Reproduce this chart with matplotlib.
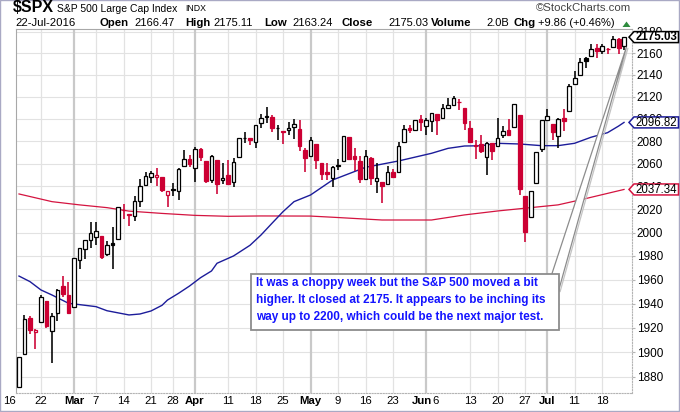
import matplotlib
matplotlib.use("Agg")
import matplotlib.pyplot as plt
from matplotlib.patches import Polygon, Rectangle
from matplotlib.ticker import FixedLocator, FixedFormatter, NullLocator
from matplotlib.transforms import blended_transform_factory, ScaledTranslation

# ---------------- data ----------------
feb = [16, 17, 18, 19, 22, 23, 24, 25, 26, 29]
mar = [1, 2, 3, 4, 7, 8, 9, 10, 11, 14, 15, 16, 17, 18, 21, 22, 23, 24, 28, 29, 30, 31]
apr = [1, 4, 5, 6, 7, 8, 11, 12, 13, 14, 15, 18, 19, 20, 21, 22, 25, 26, 27, 28, 29]
may = [2, 3, 4, 5, 6, 9, 10, 11, 12, 13, 16, 17, 18, 19, 20, 23, 24, 25, 26, 27, 31]
jun = [1, 2, 3, 6, 7, 8, 9, 10, 13, 14, 15, 16, 17, 20, 21, 22, 23, 24, 27, 28, 29, 30]
jul = [1, 5, 6, 7, 8, 11, 12, 13, 14, 15, 18, 19, 20, 21, 22]
dates = ([(2, d) for d in feb] + [(3, d) for d in mar] + [(4, d) for d in apr] +
         [(5, d) for d in may] + [(6, d) for d in jun] + [(7, d) for d in jul])

prev_close = 1864.78

opens = [1871.44, 1898.80, 1927.57, 1916.74, 1924.44, 1942.38, 1917.56, 1931.87, 1954.95, 1947.13,
         1937.09, 1976.60, 1985.60, 1994.01, 1996.11, 1996.88, 1981.44, 1990.97, 1994.71, 2019.27, 2015.27,
         2014.24, 2026.90, 2041.16, 2047.88, 2048.64, 2048.55, 2032.48, 2037.89, 2035.75, 2058.27, 2063.77,
         2056.62, 2073.19, 2062.50, 2045.56, 2063.01, 2045.54, 2050.23, 2043.72, 2065.92, 2082.89, 2083.10,
         2078.83, 2096.05, 2101.52, 2102.09, 2091.49, 2089.37, 2089.84, 2092.57, 2090.93, 2071.82,
         2067.17, 2077.18, 2060.30, 2052.95, 2047.77, 2057.55, 2062.63, 2083.29, 2067.17, 2062.50, 2046.53,
         2065.04, 2044.38, 2044.21, 2041.88, 2052.23, 2052.65, 2078.93, 2091.44, 2090.06, 2100.13,
         2093.94, 2097.71, 2104.07, 2100.83, 2110.18, 2112.71, 2115.65, 2109.57, 2091.75, 2076.65, 2077.60,
         2066.36, 2078.20, 2075.58, 2085.19, 2089.75, 2092.80, 2103.81, 2031.45, 2013.63, 2042.69, 2073.17,
         2099.34, 2095.05, 2084.43, 2100.42, 2106.97, 2131.72, 2139.50, 2155.81, 2157.88, 2165.13, 2162.04,
         2163.79, 2166.10, 2172.91, 2166.47]
highs = [1895.77, 1930.68, 1930.00, 1918.78, 1946.70, 1942.38, 1932.08, 1951.83, 1962.96, 1958.27,
         1978.35, 1986.51, 1993.69, 2009.13, 2008.76, 1996.88, 1992.69, 2005.08, 2022.37, 2024.57, 2015.94,
         2032.02, 2046.24, 2052.36, 2053.91, 2056.60, 2048.55, 2036.04, 2042.67, 2055.91, 2072.21, 2067.92,
         2075.07, 2074.02, 2062.50, 2067.33, 2063.01, 2060.63, 2062.93, 2065.05, 2083.18, 2087.84, 2083.22,
         2094.66, 2104.05, 2111.05, 2103.78, 2094.32, 2089.37, 2096.87, 2099.89, 2099.30, 2073.85,
         2083.42, 2077.18, 2060.30, 2060.23, 2057.72, 2064.15, 2084.87, 2083.29, 2073.99, 2066.79, 2071.88,
         2065.69, 2060.61, 2044.21, 2058.35, 2055.58, 2079.67, 2094.73, 2094.30, 2099.06, 2103.48,
         2100.97, 2105.26, 2104.07, 2113.36, 2119.22, 2120.55, 2117.64, 2109.57, 2098.12, 2081.30, 2085.65,
         2079.62, 2078.20, 2100.66, 2093.66, 2099.71, 2113.32, 2103.81, 2031.45, 2036.09, 2070.00, 2098.94,
         2108.71, 2095.05, 2100.72, 2109.08, 2131.71, 2143.16, 2155.40, 2156.45, 2168.99, 2169.05, 2168.35,
         2164.63, 2175.63, 2174.56, 2175.11]
lows = [1871.44, 1898.80, 1915.09, 1902.17, 1924.44, 1919.44, 1891.00, 1925.41, 1945.78, 1931.81,
        1937.09, 1968.80, 1977.37, 1986.77, 1989.44, 1977.43, 1979.84, 1969.25, 1994.71, 2012.05, 2005.23,
        2010.04, 2022.16, 2041.16, 2043.14, 2040.57, 2034.86, 2022.49, 2031.96, 2028.31, 2058.27, 2057.46,
        2043.98, 2062.57, 2042.56, 2043.09, 2033.80, 2041.69, 2041.88, 2039.74, 2065.92, 2078.13, 2076.31,
        2073.65, 2091.68, 2096.32, 2088.52, 2081.20, 2077.52, 2085.80, 2082.31, 2071.62, 2052.28,
        2066.11, 2054.89, 2045.55, 2045.77, 2039.45, 2054.31, 2062.63, 2064.46, 2053.13, 2043.13, 2046.53,
        2040.82, 2034.49, 2025.91, 2041.88, 2047.26, 2052.65, 2078.93, 2087.08, 2090.06, 2088.66,
        2085.10, 2088.59, 2085.36, 2100.83, 2110.18, 2112.71, 2107.73, 2089.96, 2078.46, 2064.10, 2069.80,
        2050.37, 2062.84, 2075.58, 2083.02, 2084.36, 2092.80, 2032.57, 1991.68, 2013.63, 2042.69, 2070.00,
        2097.90, 2080.86, 2074.02, 2089.39, 2106.97, 2131.72, 2139.50, 2146.21, 2157.88, 2155.79, 2159.07,
        2159.01, 2164.89, 2159.75, 2163.24]
closes = [1895.58, 1926.82, 1917.83, 1917.78, 1945.50, 1921.27, 1929.80, 1951.70, 1948.05, 1932.23,
          1978.35, 1986.45, 1993.40, 1999.99, 2001.76, 1979.26, 1989.26, 1989.57, 2022.19, 2019.64, 2015.93,
          2027.22, 2040.59, 2049.58, 2051.60, 2049.80, 2036.71, 2035.94, 2037.05, 2055.01, 2063.95, 2059.74,
          2072.78, 2066.13, 2045.17, 2066.66, 2041.91, 2047.60, 2041.99, 2061.72, 2082.42, 2082.78, 2080.73,
          2094.34, 2100.80, 2102.40, 2091.48, 2091.58, 2087.79, 2091.70, 2095.15, 2075.81, 2065.30,
          2081.43, 2063.37, 2051.12, 2050.63, 2057.14, 2058.69, 2084.39, 2064.46, 2064.11, 2046.61, 2066.66,
          2047.21, 2047.63, 2040.04, 2052.32, 2048.04, 2076.06, 2090.54, 2090.10, 2099.06, 2096.95,
          2099.33, 2105.26, 2099.13, 2109.41, 2112.13, 2119.12, 2115.48, 2096.07, 2079.06, 2075.32, 2071.50,
          2077.99, 2071.22, 2083.25, 2088.90, 2085.45, 2113.32, 2037.41, 2000.54, 2036.09, 2070.77, 2098.86,
          2102.95, 2088.55, 2099.73, 2097.90, 2129.90, 2137.16, 2152.14, 2152.43, 2163.75, 2161.74, 2166.89,
          2163.78, 2173.02, 2165.17, 2175.03]

# 50-day moving average (trading-day index, value)
ma50_idx = [0, 2, 4, 6, 9, 14, 16, 20, 22, 24, 26, 27, 29, 31, 33, 35, 36, 39, 42, 44, 46, 48, 50,
            53, 57, 63, 69, 75, 78, 81, 84, 87, 91, 95, 98, 101, 104, 107, 109, 110]
ma50_val = [1963.0, 1958.3, 1951.3, 1947.1, 1940.2, 1937.4, 1934.0, 1930.5, 1931.3, 1933.8, 1938.5,
            1942.9, 1948.5, 1954.6, 1961.6, 1967.3, 1973.8, 1980.0, 1989.1, 1997.9, 2008.0, 2018.0,
            2026.7, 2032.5, 2045.6, 2056.8, 2062.4, 2069.2, 2073.6, 2075.7, 2075.9, 2078.1, 2077.5,
            2076.0, 2076.0, 2078.1, 2083.5, 2087.6, 2093.5, 2096.82]
# 200-day moving average
ma200_idx = [0, 6, 11, 16, 20, 26, 32, 38, 44, 53, 57, 66, 75, 81, 87, 98, 102, 110]
ma200_val = [2033.4, 2026.7, 2023.9, 2021.5, 2018.5, 2016.5, 2014.8, 2014.0, 2014.3, 2014.2, 2013.2,
             2010.8, 2010.8, 2015.2, 2018.6, 2023.9, 2028.2, 2037.34]

price_ticks = [1880, 1900, 1920, 1940, 1960, 1980, 2000, 2020, 2040, 2060, 2080, 2100,
               2120, 2140, 2160, 2180]

xlab_dates = [(2, 16), (2, 22), (3, 1), (3, 7), (3, 14), (3, 21), (3, 28), (4, 1), (4, 11), (4, 18),
              (4, 25), (5, 2), (5, 9), (5, 16), (5, 23), (6, 1), (6, 6), (6, 13), (6, 20), (6, 27),
              (7, 1), (7, 11), (7, 18)]
xlab_text = ['16', '22', 'Mar', '7', '14', '21', '28', 'Apr', '11', '18', '25', 'May', '9', '16',
             '23', 'Jun', '6', '13', '20', '27', 'Jul', '11', '18']

header_fields = [("Open", "2166.47"), ("High", "2175.11"), ("Low", "2163.24"),
                 ("Close", "2175.03"), ("Volume", "2.0B"), ("Chg", "+9.86 (+0.46%)")]
note_lines = ["It was a choppy week but the S&P 500 moved a bit",
              "higher. It closed at 2175. It appears to be inching its",
              "way up to 2200, which could be the next major test."]

# ---------------- style ----------------
W, H = 680, 412
RED = '#cc0033'
BLACK = '#000000'
BLUE_MA = '#1c1c9a'
RED_MA = '#d41440'
FONT = ['Liberation Sans', 'DejaVu Sans']
plt.rcParams['font.family'] = FONT

fig = plt.figure(figsize=(W / 100, H / 100), dpi=100)
fig.patch.set_facecolor('white')


def fx(x):
    return x / W


def fy(y):
    return 1 - y / H


L, R, T, B = 16, 632, 29, 393
ax = fig.add_axes([fx(L), fy(B), (R - L) / W, (B - T) / H])
ax.set_facecolor('white')
ax.set_yscale('log')
ax.set_ylim(1866.9, 2182.6)
ax.set_xlim(-0.545, 111.45)

n = len(closes)
xs = list(range(n))

# gridlines
for p in price_ticks:
    ax.axhline(p, color='#e2e2e2', lw=0.8, zorder=0)
for d, t in zip(xlab_dates, xlab_text):
    i = dates.index(d)
    if i == 0 or t == '6':
        continue
    if t.isalpha():
        ax.axvline(i, color='#c9c9c9', lw=1.6, zorder=0)
    else:
        ax.axvline(i, color='#e2e2e2', lw=0.9, zorder=0)

# moving averages
ax.plot(ma200_idx, ma200_val, color=RED_MA, lw=0.9, zorder=2)
ax.plot(ma50_idx, ma50_val, color=BLUE_MA, lw=1.0, zorder=2)

# candles
bw = 0.72
prevs = [prev_close] + closes[:-1]
for i in xs:
    o, h, l, c = opens[i], highs[i], lows[i], closes[i]
    col = BLACK if c >= prevs[i] else RED
    hollow = c > o
    ax.vlines(i, l, h, color=col, lw=1.15, zorder=3)
    lo, hi = min(o, c), max(o, c)
    ax.add_patch(Rectangle((i - bw / 2, lo), bw, max(hi - lo, 0.01),
                           facecolor='white' if hollow else col, edgecolor=col,
                           lw=0.9, zorder=4))

# axes frame
for s in ['left', 'top']:
    ax.spines[s].set_color('#a8a8a8')
    ax.spines[s].set_linewidth(0.8)
for s in ['right', 'bottom']:
    ax.spines[s].set_color('#b4b4b4')
    ax.spines[s].set_linewidth(0.8)
    ax.spines[s].set_linestyle((0, (1, 1.5)))

ax.yaxis.set_major_locator(FixedLocator(price_ticks))
ax.yaxis.set_major_formatter(FixedFormatter([str(p) for p in price_ticks]))
ax.yaxis.set_minor_locator(NullLocator())
ax.yaxis.tick_right()
ax.tick_params(axis='y', which='major', length=2, color='#b4b4b4', pad=1.5,
               labelsize=8.5, labelcolor='black')
ax.set_xticks([])

# x labels
trans = blended_transform_factory(ax.transData, ax.transAxes)
label_shift = {'16': -10, 'Jun': -4, '6': -7}
for d, t in zip(xlab_dates, xlab_text):
    i = dates.index(d)
    shift = label_shift.get(t, 0) if (i == 0 or t in ('Jun', '6')) else 0
    tr = trans + ScaledTranslation(shift / 100, -8.5 / 100, fig.dpi_scale_trans)
    ax.text(i, 0, t, transform=tr, ha='center', va='center', fontsize=8.2,
            fontweight='bold' if t.isalpha() else 'normal', color='black', clip_on=False)

# ---------------- header ----------------
fig.text(fx(13), fy(8), "$SPX", fontsize=11.5, fontweight='bold', va='center', ha='left')
fig.text(fx(57), fy(8.5), "S&P 500 Large Cap Index", fontsize=7.5, va='center', ha='left')
fig.text(fx(185), fy(8.5), "INDX", fontsize=6.3, va='center', ha='left')
fig.text(fx(631), fy(8), "\u00a9StockCharts.com", fontsize=8.2, va='center', ha='right',
         color='#444444')
fig.text(fx(15), fy(23.5), "22-Jul-2016", fontsize=8.2, va='center', ha='left')
label_x = [100, 185, 264, 342, 431, 513]
value_x = [134, 213, 292, 388, 486, 538]
for (lab, val), lx, vx in zip(header_fields, label_x, value_x):
    fig.text(fx(lx), fy(23.5), lab, fontsize=8.2, fontweight='bold', va='center', ha='left')
    fig.text(fx(vx), fy(23.5), val, fontsize=8.0, va='center', ha='left')
fig.patches.append(Polygon([(fx(622.5), fy(27)), (fx(630.5), fy(27)), (fx(626.5), fy(21.5))],
                           closed=True, transform=fig.transFigure, facecolor='#2e8b3e',
                           edgecolor='none'))

# ---------------- value tags on the price axis ----------------
fig.canvas.draw()


def tag(val, edge, text, bold):
    yd = ax.transData.transform((0, val))[1]
    y = H - yd
    pts = [(629, y), (634, y - 5.5), (678.5, y - 5.5), (678.5, y + 5.5), (634, y + 5.5)]
    fig.patches.append(Polygon([(fx(a), fy(b)) for a, b in pts], closed=True,
                               transform=fig.transFigure, facecolor='white',
                               edgecolor=edge, lw=1.1, zorder=5))
    fig.text(fx(656.5), fy(y + 0.3), text, fontsize=8.3, ha='center', va='center',
             fontweight='bold' if bold else 'normal', zorder=6)


tag(closes[-1], 'black', f"{closes[-1]:.2f}", True)
tag(ma50_val[-1], BLUE_MA, f"{ma50_val[-1]:.2f}", False)
tag(ma200_val[-1], RED_MA, f"{ma200_val[-1]:.2f}", False)

# ---------------- annotation callout ----------------
tip_y = H - ax.transData.transform((0, 2166.0))[1]
tail = [(552, 273.5), (558.5, 291), (626.5, tip_y)]
fig.patches.append(Polygon([(fx(a + 1.5), fy(b + 1)) for a, b in tail], closed=True,
                           transform=fig.transFigure, facecolor='none',
                           edgecolor='#c4c4c4', lw=0.9, zorder=3))
fig.patches.append(Polygon([(fx(a), fy(b)) for a, b in tail], closed=True,
                           transform=fig.transFigure, facecolor='white',
                           edgecolor='#8c8c8c', lw=0.9, zorder=3))
fig.patches.append(Rectangle((fx(251), fy(330)), (558.5 - 251) / W, (330 - 273.5) / H,
                             transform=fig.transFigure, facecolor='white',
                             edgecolor='#8c8c8c', lw=1.3, zorder=4))
for k, line in enumerate(note_lines):
    fig.text(fx(256), fy(283 + 17 * k), line, fontsize=8.5, fontweight='bold',
             color='#1414ff', va='center', ha='left', zorder=6)

# outer frame (right and bottom edges)
fig.patches.append(Rectangle((fx(0), fy(410.5)), 678.5 / W, 410.5 / H, transform=fig.transFigure,
                             facecolor='none', edgecolor='#a9a9c4', lw=1.0, zorder=1))

fig.savefig("out.png", dpi=100, facecolor='white')
